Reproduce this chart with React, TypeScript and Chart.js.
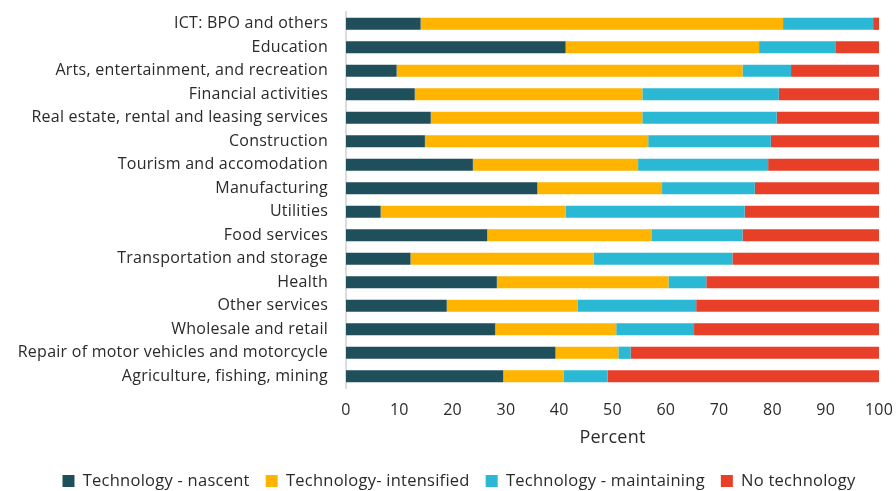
import React, { useEffect, useRef } from "react";
import { Chart, registerables } from "chart.js";

Chart.register(...registerables);

const categories = [
  "ICT: BPO and others",
  "Education",
  "Arts, entertainment, and recreation",
  "Financial activities",
  "Real estate, rental and leasing services",
  "Construction",
  "Tourism and accomodation",
  "Manufacturing",
  "Utilities",
  "Food services",
  "Transportation and storage",
  "Health",
  "Other services",
  "Wholesale and retail",
  "Repair of motor vehicles and motorcycle",
  "Agriculture, fishing, mining",
];

const nascent = [14.0, 41.2, 9.5, 12.9, 15.9, 14.8, 23.8, 35.9, 6.5, 26.5, 12.1, 28.3, 18.9, 28.0, 39.3, 29.5];
const intensified = [68.0, 36.3, 64.9, 42.7, 39.7, 41.9, 31.0, 23.4, 34.7, 30.9, 34.4, 32.2, 24.6, 22.7, 11.8, 11.3];
const maintaining = [16.9, 14.3, 9.1, 25.6, 25.2, 23.0, 24.4, 17.4, 33.6, 17.0, 26.0, 7.1, 22.2, 14.6, 2.3, 8.3];
const noTech = [1.1, 8.2, 16.5, 18.8, 19.2, 20.3, 20.8, 23.3, 25.2, 25.6, 27.5, 32.4, 34.3, 34.7, 46.6, 50.9];

const seriesNames = [
  "Technology - nascent",
  "Technology- intensified",
  "Technology - maintaining",
  "No technology",
];
const seriesColors = ["#1E4F5B", "#FFB400", "#2AB8D4", "#E73F28"];
const xTicks = [0, 10, 20, 30, 40, 50, 60, 70, 80, 90, 100];

const FONT = "'Open Sans', Lato, sans-serif";
const TEXT = "#2a2a2a";
const SPACING = "0.25px";

const spacingPlugin = {
  id: "letterSpacing",
  beforeUpdate(chart: any) {
    try {
      (chart.ctx as any).letterSpacing = SPACING;
    } catch (e) {}
  },
  afterLayout(chart: any) {
    const lg = chart.legend;
    if (lg) {
      lg.left += 15.5;
      lg.right += 15.5;
    }
  },
  beforeDraw(chart: any) {
    try {
      (chart.ctx as any).letterSpacing = SPACING;
    } catch (e) {}
  },
};

export default function App() {
  const ref = useRef<HTMLCanvasElement | null>(null);
  useEffect(() => {
    document.body.style.margin = "0";
    if (!ref.current) return;
    const values = [nascent, intensified, maintaining, noTech];
    const chart = new Chart(ref.current, {
      type: "bar",
      plugins: [spacingPlugin],
      data: {
        labels: categories,
        datasets: values.map((v, i) => ({
          label: seriesNames[i],
          data: v,
          backgroundColor: seriesColors[i],
          borderWidth: 0,
          categoryPercentage: 0.52,
          barPercentage: 1,
        })),
      },
      options: {
        indexAxis: "y",
        animation: false,
        responsive: false,
        maintainAspectRatio: false,
        layout: { padding: { top: 12, right: 17, left: 8, bottom: -8.25 } },
        scales: {
          x: {
            stacked: true,
            min: 0,
            max: 100,
            afterBuildTicks: (axis: any) => {
              axis.ticks = xTicks.map((v) => ({ value: v }));
            },
            grid: { display: false, drawTicks: true, tickLength: 13 },
            border: { display: false },
            ticks: { color: TEXT, font: { family: FONT, size: 16 }, padding: 0, maxRotation: 0 },
            title: {
              display: true,
              text: "Percent",
              color: TEXT,
              font: { family: FONT, size: 18 },
              padding: { top: 7, bottom: 7.95 },
            },
          },
          y: {
            stacked: true,
            afterFit: (axis: any) => {
              axis.width = 338;
            },
            grid: { display: false, drawTicks: true, tickLength: 18 },
            border: { display: true, color: "#dcdcdc", width: 2 },
            ticks: { color: TEXT, font: { family: FONT, size: 16 }, padding: 0, autoSkip: false },
          },
        },
        plugins: {
          legend: {
            position: "bottom",
            labels: {
              color: TEXT,
              font: { family: FONT, size: 16.5 },
              boxWidth: 12,
              boxHeight: 12,
              padding: 16,
            },
          },
          tooltip: { enabled: false },
        },
      },
    });
    return () => chart.destroy();
  }, []);
  return (
    <div style={{ position: "absolute", left: 0, top: 0, width: 896, height: 491 }}>
      <canvas ref={ref} width={896} height={491} style={{ width: 896, height: 491 }} />
    </div>
  );
}
